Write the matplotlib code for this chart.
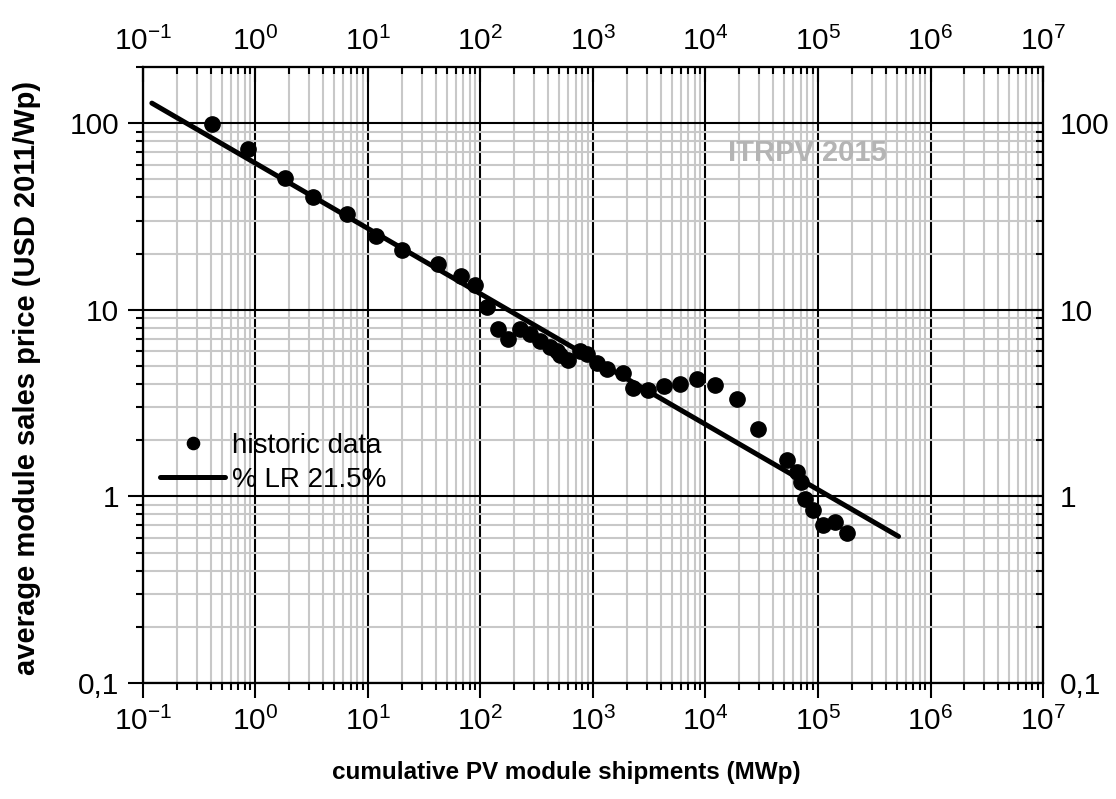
import matplotlib
matplotlib.use("Agg")
import matplotlib.pyplot as plt
from matplotlib.ticker import FixedLocator, LogLocator, NullFormatter

plt.rcParams['font.family'] = ['Liberation Sans', 'DejaVu Sans']
plt.rcParams['mathtext.fontset'] = 'custom'
plt.rcParams['mathtext.rm'] = 'Liberation Sans'
plt.rcParams['mathtext.it'] = 'Liberation Sans:italic'
plt.rcParams['mathtext.bf'] = 'Liberation Sans:bold'

# historic data
shipments_mwp = [0.41, 0.86, 1.83, 3.27, 6.55, 11.9, 20.2, 41.7, 67, 89,
                 115, 144, 177, 224, 275, 338, 415, 480, 509, 603,
                 766, 879, 1078, 1324, 1862, 2280, 3100, 4280, 5930, 8350,
                 12100, 19200, 29500, 53300, 64600, 70100, 76600, 90800, 110000, 141600,
                 182000]
price_usd = [99, 73, 51, 40, 32.5, 24.7, 20.8, 17.5, 15.2, 13.6,
             10.3, 7.9, 7.0, 7.9, 7.4, 6.8, 6.3, 6.0, 5.7, 5.4,
             6.0, 5.8, 5.2, 4.8, 4.6, 3.8, 3.7, 3.9, 4.0, 4.25,
             3.95, 3.33, 2.3, 1.56, 1.35, 1.19, 0.97, 0.84, 0.70, 0.73,
             0.64]

# learning rate line (21.5 %), end points
lr_x = [0.12, 5.2e5]
lr_y = [128, 0.61]

x_decades = [1e-1, 1e0, 1e1, 1e2, 1e3, 1e4, 1e5, 1e6, 1e7]
x_labels = [r'$\mathregular{10^{-1}}$', r'$\mathregular{10^{0}}$', r'$\mathregular{10^{1}}$',
            r'$\mathregular{10^{2}}$', r'$\mathregular{10^{3}}$', r'$\mathregular{10^{4}}$',
            r'$\mathregular{10^{5}}$', r'$\mathregular{10^{6}}$', r'$\mathregular{10^{7}}$']
y_decades = [0.1, 1, 10, 100]
y_labels = ['0,1', '1', '10', '100']

xlim = (1e-1, 1e7)
ylim = (0.1, 200)

fig = plt.figure(figsize=(11.16, 7.99), dpi=100)
ax = fig.add_axes([0.1281, 0.1452, 0.8065, 0.7710])

ax.set_xscale('log')
ax.set_yscale('log')
ax.set_xlim(xlim)
ax.set_ylim(ylim)

ax.grid(True, which='minor', color='#c8c8c8', lw=1.5, zorder=0)
ax.grid(True, which='major', color='black', lw=1.5, zorder=1)
ax.set_axisbelow(True)

ax.plot(shipments_mwp, price_usd, 'o', color='black', ms=11, mec='black',
        label='historic data', zorder=3)
ax.plot(lr_x, lr_y, '-', color='black', lw=3.6, solid_capstyle='round',
        label='% LR 21.5%', zorder=4)

ax.xaxis.set_major_locator(FixedLocator(x_decades))
ax.set_xticklabels(x_labels)
ax.xaxis.set_minor_locator(LogLocator(base=10, subs=range(2, 10), numticks=20))
ax.xaxis.set_minor_formatter(NullFormatter())
ax.yaxis.set_major_locator(FixedLocator(y_decades))
ax.set_yticklabels(y_labels)
ax.yaxis.set_minor_locator(LogLocator(base=10, subs=range(2, 10), numticks=20))
ax.yaxis.set_minor_formatter(NullFormatter())

ax.tick_params(which='major', direction='out', length=11, width=1.5, labelsize=21.5, pad=6)
ax.tick_params(which='minor', direction='out', length=5, width=1.5)
ax.tick_params(top=False, right=False)

for s in ax.spines.values():
    s.set_linewidth(1.5)

# top axis
axt = ax.twiny()
axt.set_xscale('log')
axt.set_xlim(xlim)
axt.xaxis.set_major_locator(FixedLocator(x_decades))
axt.set_xticklabels(x_labels)
axt.xaxis.set_minor_locator(LogLocator(base=10, subs=range(2, 10), numticks=20))
axt.xaxis.set_minor_formatter(NullFormatter())
axt.tick_params(which='major', direction='in', length=11, width=1.5, labelsize=21.5, pad=8)
axt.tick_params(which='minor', direction='in', length=5, width=1.5)

# right axis
axr = ax.twinx()
axr.set_yscale('log')
axr.set_ylim(ylim)
axr.yaxis.set_major_locator(FixedLocator(y_decades))
axr.set_yticklabels(y_labels)
axr.yaxis.set_minor_locator(LogLocator(base=10, subs=range(2, 10), numticks=20))
axr.yaxis.set_minor_formatter(NullFormatter())
axr.tick_params(which='major', direction='in', length=11, width=1.5, labelsize=21.5, pad=12)
axr.tick_params(which='minor', direction='in', length=5, width=1.5)
for a in (axt, axr):
    for s in a.spines.values():
        s.set_linewidth(1.5)

ax.set_xlabel('cumulative PV module shipments (MWp)', fontsize=17.5, fontweight='bold')
ax.xaxis.set_label_coords(0.47, -0.127)
ax.set_ylabel('average module sales price (USD 2011/Wp)', fontsize=21, fontweight='bold')
ax.yaxis.set_label_coords(-0.113, 0.495)

ax.text(0.738, 0.86, 'ITRPV 2015', transform=ax.transAxes, fontsize=21,
        fontweight='bold', color='#b4b4b4', ha='center', va='center', zorder=5)

ax.legend(loc='upper left', bbox_to_anchor=(0.019, 0.406), frameon=False,
          fontsize=20, handlelength=2.35, handletextpad=0.25, labelspacing=0.3,
          borderpad=0, borderaxespad=0, markerscale=0.8)

fig.savefig('out.png', dpi=100)
